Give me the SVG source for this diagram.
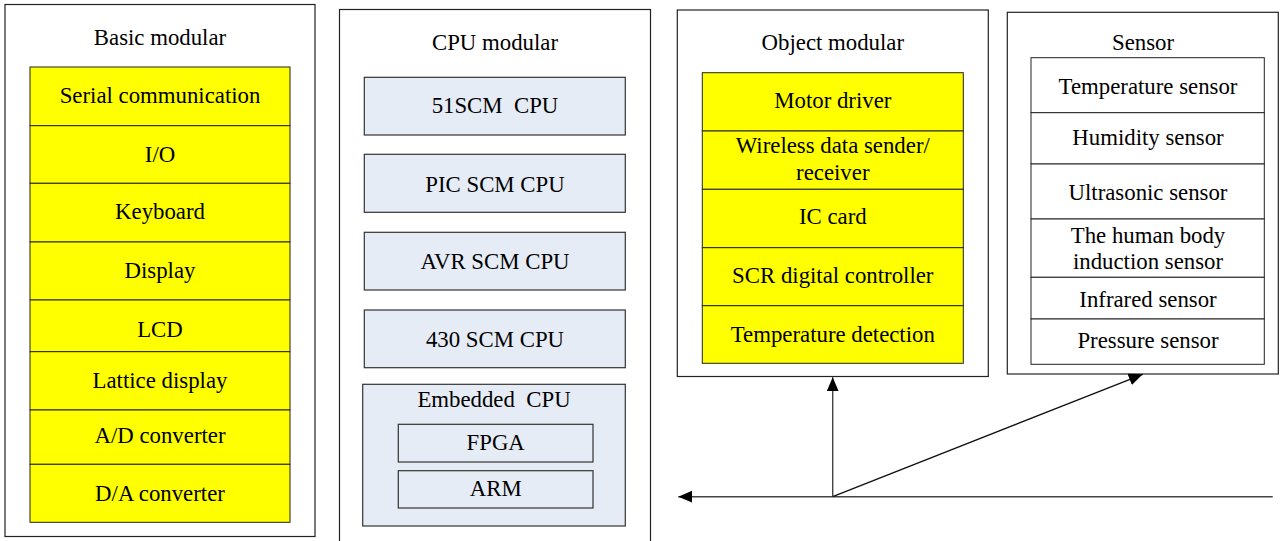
<svg xmlns="http://www.w3.org/2000/svg" width="1280" height="541" viewBox="0 0 1280 541">
<defs>
<style>
.outer{fill:#fff;stroke:#222;stroke-width:1.2}
.y{fill:#ffff00;stroke:#222;stroke-width:1}
.b{fill:#e6ecf6;stroke:#333;stroke-width:1.2}
.w{fill:#fff;stroke:#222;stroke-width:1}
text{font-family:"Liberation Serif","Times New Roman",serif;font-size:22.8px;fill:#000;text-anchor:middle;white-space:pre}
.conn{stroke:#444;stroke-width:1.4;fill:none}
</style>
<marker id="ah" markerUnits="userSpaceOnUse" markerWidth="14" markerHeight="14" viewBox="0 0 14 12" refX="14" refY="6" orient="auto">
<path d="M0,0 L14,6 L0,12 Z" fill="#000"/>
</marker>
</defs>
<rect width="1280" height="541" fill="#fff"/>

<g id="basic">
<rect class="outer" x="5" y="4.5" width="310" height="532"/>
<text x="160" y="45">Basic modular</text>
<rect class="y" x="30" y="67" width="260" height="58.7"/>
<rect class="y" x="30" y="125.7" width="260" height="57.6"/>
<rect class="y" x="30" y="183.3" width="260" height="58.7"/>
<rect class="y" x="30" y="242" width="260" height="58"/>
<rect class="y" x="30" y="300" width="260" height="51.7"/>
<rect class="y" x="30" y="351.7" width="260" height="58.3"/>
<rect class="y" x="30" y="410" width="260" height="54.3"/>
<rect class="y" x="30" y="464.3" width="260" height="58"/>
<text x="160" y="103">Serial communication</text>
<text x="160" y="161.7">I/O</text>
<text x="160" y="219.3">Keyboard</text>
<text x="160" y="278.3">Display</text>
<text x="160" y="336.5">LCD</text>
<text x="160" y="388.3">Lattice display</text>
<text x="160" y="442.7">A/D converter</text>
<text x="160" y="500.7">D/A converter</text>
</g>

<g id="cpu">
<rect class="outer" x="339.5" y="9.5" width="311" height="540"/>
<text x="495" y="50">CPU modular</text>
<rect class="b" x="364.3" y="77.3" width="261" height="57.7"/>
<text x="495" y="113.3">51SCM  CPU</text>
<rect class="b" x="364.3" y="154.3" width="261" height="58"/>
<text x="495" y="191.7">PIC SCM CPU</text>
<rect class="b" x="364.3" y="232.3" width="261" height="57.7"/>
<text x="495" y="269.3">AVR SCM CPU</text>
<rect class="b" x="364.3" y="310" width="261" height="57.7"/>
<text x="495" y="346.7">430 SCM CPU</text>
<g id="embedded">
<rect class="b" x="362.7" y="384.3" width="262.6" height="141.7"/>
<text x="494" y="406.7">Embedded  CPU</text>
<rect class="b" x="398.3" y="424.3" width="194.7" height="37.7"/>
<text x="495.7" y="450">FPGA</text>
<rect class="b" x="398.3" y="470.7" width="194.7" height="37.3"/>
<text x="495.7" y="495.5">ARM</text>
</g>
</g>

<g id="object">
<rect class="outer" x="677.3" y="10" width="311" height="366.5"/>
<text x="832.8" y="50">Object modular</text>
<rect class="y" x="702.3" y="72.7" width="261" height="58.3"/>
<rect class="y" x="702.3" y="131" width="261" height="58.3"/>
<rect class="y" x="702.3" y="189.3" width="261" height="58.4"/>
<rect class="y" x="702.3" y="247.7" width="261" height="58"/>
<rect class="y" x="702.3" y="305.7" width="261" height="57.6"/>
<text x="832.8" y="108.3">Motor driver</text>
<text x="832.8" y="153.3">Wireless data sender/</text>
<text x="832.8" y="180">receiver</text>
<text x="832.8" y="224">IC card</text>
<text x="832.8" y="282.7">SCR digital controller</text>
<text x="832.8" y="341.7">Temperature detection</text>
</g>

<g id="sensor">
<rect class="outer" x="1007.3" y="12.3" width="271" height="361.7"/>
<text x="1143" y="50">Sensor</text>
<rect class="w" x="1031" y="57.7" width="233.3" height="55"/>
<rect class="w" x="1031" y="112.7" width="233.3" height="51.3"/>
<rect class="w" x="1031" y="164" width="233.3" height="55"/>
<rect class="w" x="1031" y="219" width="233.3" height="58.3"/>
<rect class="w" x="1031" y="277.3" width="233.3" height="41.7"/>
<rect class="w" x="1031" y="319" width="233.3" height="45.3"/>
<text x="1148" y="94">Temperature sensor</text>
<text x="1148" y="145">Humidity sensor</text>
<text x="1148" y="200">Ultrasonic sensor</text>
<text x="1148" y="243.3">The human body</text>
<text x="1148" y="269.3">induction sensor</text>
<text x="1148" y="306.7">Infrared sensor</text>
<text x="1148" y="348.3">Pressure sensor</text>
</g>

<g id="connectors">
<line class="conn" x1="1272.7" y1="496.7" x2="678.3" y2="496.7" marker-end="url(#ah)"/>
<line class="conn" x1="832.7" y1="496.7" x2="832.7" y2="377.3" marker-end="url(#ah)"/>
<line class="conn" x1="832.7" y1="496.7" x2="1142.7" y2="374.3" marker-end="url(#ah)" style="stroke:#111"/>
</g>
</svg>
